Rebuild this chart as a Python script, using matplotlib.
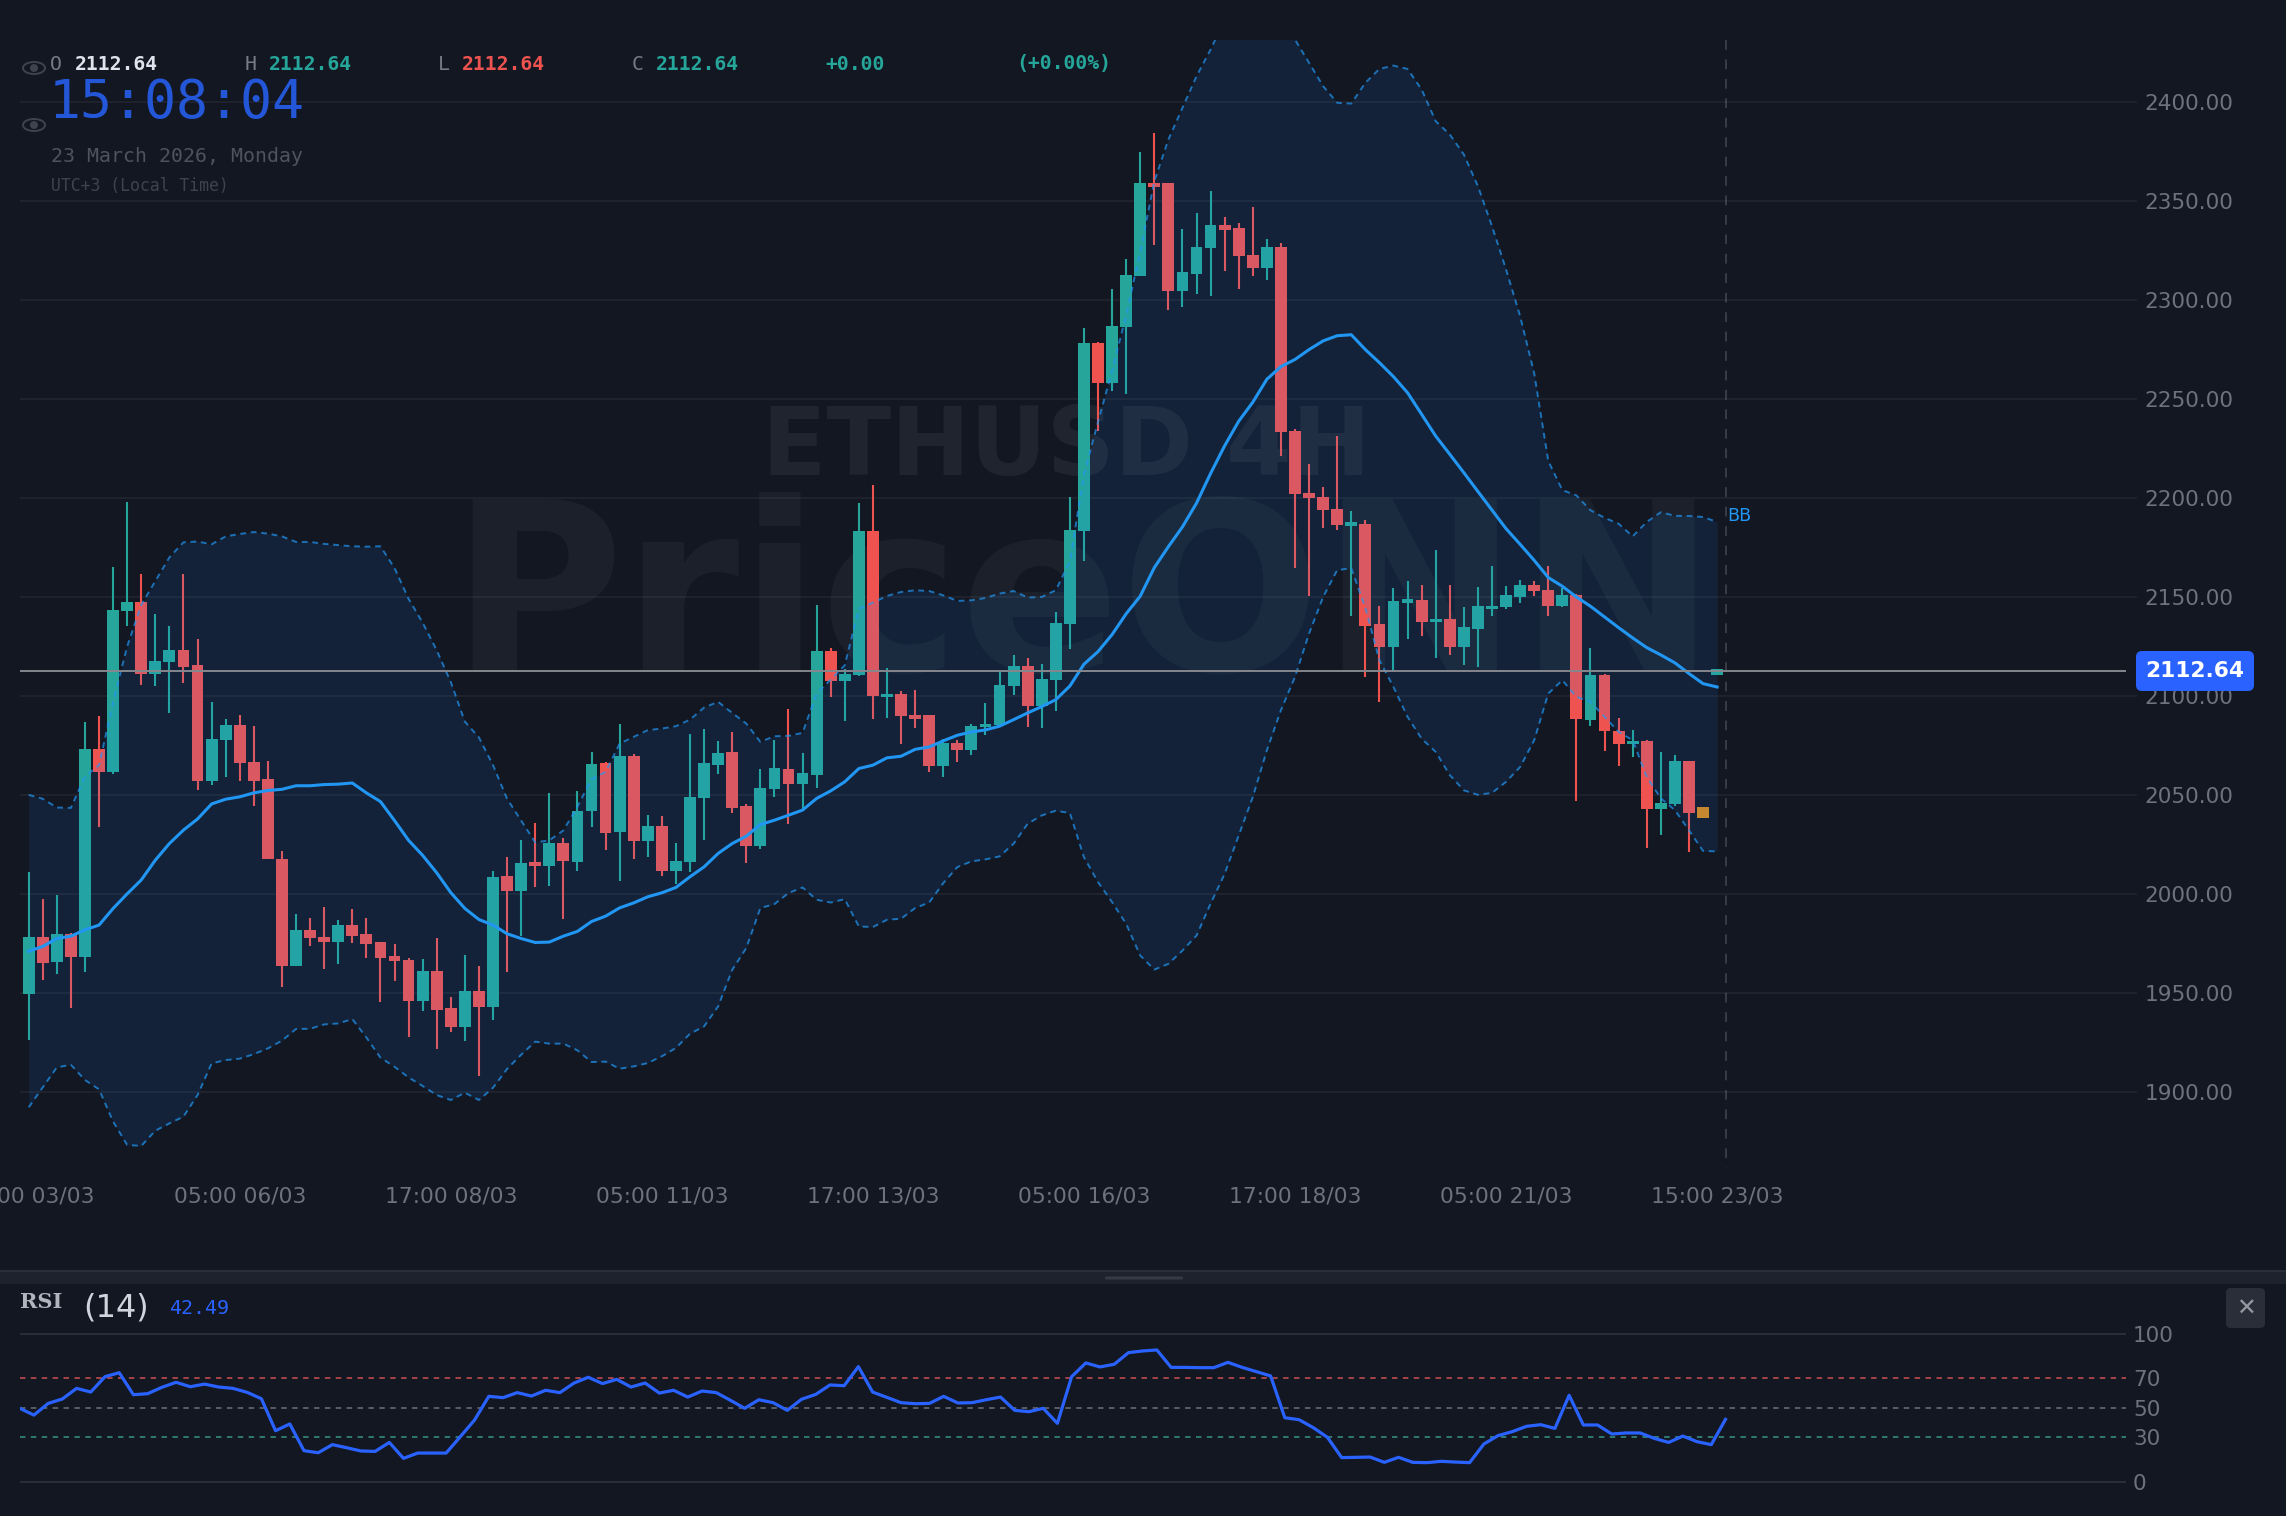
import matplotlib
matplotlib.use('Agg')
import matplotlib.pyplot as plt
import numpy as np
from matplotlib.patches import Ellipse, Circle, FancyBboxPatch, Rectangle
from matplotlib.transforms import IdentityTransform

W, H = 2286, 1516
BG = '#131722'
TEAL = '#26a69a'
RED = '#ef5350'
BLUE = '#2196f3'
GREY = '#6f727d'

opens = [1949.4,1978.2,1965.4,1979.6,1968,2073.2,2061.6,2142.8,2147.6,2111,
2117,2123.4,2115.4,2056.8,2077.6,2085.4,2066.6,2057.8,2017.4,1963.6,
1981.6,1978.4,1975.8,1984,1979.6,1975.6,1968.4,1966.6,1945.8,1961.2,
1942.2,1932.8,1951,1942.8,2008.8,2001.4,2016,2014,2025.6,2016,
2041.6,2066,2031.1,2069.5,2026.7,2034.5,2011.6,2016,2048.5,2065.3,
2071.4,2044.3,2024.4,2052.9,2063.3,2055.5,2060.2,2122.5,2107.6,2110.4,
2183.2,2099.3,2101,2090.6,2090.2,2064.6,2076.1,2072.6,2084.2,2085.2,
2104.9,2115.2,2094.8,2107.9,2136.5,2183.4,2278.4,2258,2286.2,2312,
2359.2,2359,2304.8,2313.2,2326.4,2338,2336.2,2323,2316,2327,
2234,2202.6,2200.6,2194.6,2186,2187,2136.2,2124.6,2147,2148.6,
2137.4,2139,2124.6,2133.8,2143.9,2144.8,2150.2,2156.2,2153.7,2145.3,
2151.2,2088,2110.6,2082.5,2075.7,2077.4,2043.1,2045.4,2067.2,2043.9,2110.6]

closes = [1978.4,1965,1979.6,1968.2,2073.2,2061.6,2143.6,2147.6,2111,2117.6,
2123.4,2114.6,2057,2078.4,2085.4,2066,2057,2017.4,1963.6,1981.6,
1977.6,1975.8,1984,1978.8,1974.8,1967.6,1966,1945.8,1961.2,1941.4,
1932.8,1951,1942.8,2008.6,2001.4,2015.8,2014,2025.6,2016.4,2041.8,
2065.6,2030.8,2069.5,2026.7,2034.5,2011.6,2016.7,2049.1,2066,2070.9,
2043.2,2024.4,2053.4,2063.5,2055.7,2061.1,2122.5,2107.6,2111.3,2183.2,
2100,2101,2089.6,2088.5,2064.6,2076.1,2072.6,2084.8,2086,2105.7,
2115,2094.8,2108.7,2136.9,2184,2278.4,2258,2286.8,2312.8,2359.2,
2357.2,2304.8,2314,2327,2338,2335.4,2322.4,2316,2327,2233.2,
2202,2200,2193.8,2186.6,2187.8,2135.4,2124.6,2148,2149.2,2137.4,
2139,2124.7,2134.7,2145.3,2145.6,2150.8,2156.2,2153,2145.3,2151.2,
2088.2,2110.6,2082.3,2075.7,2077.4,2043.1,2045.8,2067.2,2040.9,2038.2,2113.5]

highs = [2011,1997.4,1999.4,1980.4,2086.6,2090,2165,2197.8,2161.8,2141.6,
2135.4,2161.4,2128.8,2097,2088.4,2090.6,2084.8,2067.2,2021.4,1990,
1987.6,1993.4,1987,1992.4,1988,1975.6,1974.6,1967.4,1967.2,1977.6,
1948,1969,1963.6,2011.6,2018.6,2027.2,2035.8,2051,2028.2,2052,
2071.6,2066.6,2086,2070.8,2039.7,2039.2,2025.7,2080.6,2083.5,2077.3,
2082,2045.3,2063.3,2077.6,2093.3,2071.2,2146.1,2124.4,2113.8,2197.6,
2206.4,2114.3,2102.5,2103.2,2090.2,2078.4,2077.9,2086,2096.6,2113.3,
2120.9,2118.9,2116.3,2142.4,2200.6,2286,2279,2305.8,2320.6,2374.8,
2384.2,2359.4,2335.8,2344,2355.2,2342.2,2339.2,2346.8,2331,2329,
2235,2217.4,2205.4,2231.4,2193.4,2189,2145.2,2154.6,2158,2156.2,
2173.6,2155.9,2145,2154.9,2165.5,2155.6,2158.8,2158.2,2165.8,2154.5,
2151.4,2124.4,2111.3,2089,2082.8,2077.9,2071.4,2069.9,2067.2,2043.9,2113.5]

lows = [1926,1956.6,1959.4,1942.4,1960.4,2034,2060.4,2135.2,2105.4,2105,
2091.6,2106.6,2052.2,2055.2,2059,2057,2044.2,2017.4,1953,1963.6,
1973.6,1961.8,1964.4,1975,1967.6,1945.4,1955.8,1927.4,1940.6,1921.8,
1930.2,1925.6,1908,1936,1960.6,1978.6,2003.6,2004,1987.4,2011.6,
2033.8,2022,2006.6,2017.5,2018.7,2009,2004.7,2011.1,2027.4,2060.4,
2040.6,2015.6,2022.5,2048.9,2035.5,2043.1,2053.7,2099.5,2087.4,2109.9,
2088.5,2089,2075.9,2083.7,2061.3,2059.1,2066.7,2070,2080.1,2084.3,
2100.3,2084.3,2084,2092.4,2123.6,2168,2234,2254,2252.8,2312,
2328,2295,2296.6,2303,2302.2,2314.8,2305.4,2312,2310,2221.2,
2164.8,2150.6,2185,2184,2140.4,2109.4,2097,2112.2,2128.5,2130.1,
2119.4,2120.5,2115.5,2114.8,2140.4,2143.8,2147,2150.5,2140.4,2145,
2047,2085,2072,2064.6,2069.2,2023,2029.8,2044.4,2020.9,2038.2,2110.6]

bb_mid = [1971,1973.4,1977.4,1978.6,1981.8,1984.2,1992.6,2000,2007,2017,
2025.4,2032.2,2037.8,2045.4,2047.8,2049,2051,2052.2,2052.8,2054.6,
2054.6,2055.2,2055.4,2056,2051,2046.6,2037,2027,2019.4,2010.6,
2000.6,1992.6,1987,1984.2,1979.8,1977.4,1975.4,1975.6,1978.6,1981,
1986,1988.7,1992.9,1995.4,1998.5,2000.5,2003.2,2008.6,2013.6,2020.4,
2025.4,2029.1,2035,2037.2,2039.7,2042.3,2048.2,2052,2056.6,2063.3,
2065,2068.7,2069.5,2073,2074.2,2077.3,2080.1,2081.8,2082.8,2084.7,
2088,2091.4,2094.6,2098.1,2105,2116,2122.4,2131,2141.5,2150.4,
2164.8,2175.4,2185.4,2197.4,2212.4,2226.4,2238.8,2248.4,2260,2266.4,
2270,2275,2279.4,2282,2282.5,2275,2268.4,2261.3,2253.2,2242.3,
2231.3,2222.1,2212.8,2203.3,2193.9,2184.5,2176.6,2168.5,2159.8,2155.4,
2150,2145.3,2139.9,2134.5,2129.3,2124.4,2120.7,2116.7,2111.3,2106.2,2104.5]

bb_upper = [2050,2048,2043.6,2043.4,2059.4,2065,2097,2125,2146,2158,
2170,2177.6,2178,2176.6,2180.6,2181.8,2182.8,2182,2180.6,2177.8,
2177.8,2176.8,2176.2,2175.6,2175.4,2175.6,2164.6,2149,2137,2123,
2107,2087,2079,2065,2048,2037,2026,2027,2032,2044,
2058,2061.6,2075.9,2079.3,2082.7,2083.5,2084.7,2088,2094.1,2097,
2091.4,2086,2076.8,2079.6,2079.8,2081.3,2101.2,2108.2,2115.5,2144.1,
2147.1,2150.5,2152.5,2153.4,2153,2150.8,2148,2148.3,2149.5,2151.7,
2153,2149.7,2150,2153.4,2168,2212,2238.4,2264.4,2292.4,2324.4,
2360,2381.1,2397.1,2413.1,2426.6,2441.7,2450,2452,2450,2442,
2431.6,2419.9,2408.1,2399.7,2399.3,2409.8,2416.8,2418.5,2416.8,2406.4,
2390.4,2383.7,2373.6,2357.6,2337.4,2315.5,2291.9,2263,2218.7,2204,
2201.3,2193.8,2190,2187,2180.6,2187.9,2192.8,2191,2190.9,2190.4,2187.9]

bb_lower = [1892.1,1902.2,1912.3,1913.6,1905.9,1901.2,1884.9,1873.1,1872.6,1880.3,
1884,1887.4,1898.3,1914.3,1916,1916.7,1919,1921.9,1925.8,1931.7,
1931.8,1934,1934.5,1936.7,1927.4,1917.2,1912.6,1907.2,1902.9,1898.3,
1895.8,1899.5,1895.8,1902,1911.5,1918.7,1925.3,1924.3,1924.3,1920.9,
1915,1915.2,1911.6,1912.8,1914.5,1917.9,1922.1,1929.3,1933,1943.1,
1961.6,1972.6,1992.8,1994.8,2000.4,2003.2,1997,1995.6,1997.3,1983.5,
1983.2,1986.9,1987.4,1992.8,1995.6,2005.4,2013.5,2016.4,2017.4,2018.9,
2025.3,2035.4,2039.6,2042,2040.8,2018.5,2005.9,1995.8,1984.8,1968.8,
1961.7,1964.6,1971.3,1978.9,1995,2010.1,2029.5,2048.9,2072.5,2092.8,
2109.6,2131.5,2150,2163.6,2164.5,2144.5,2118,2104.5,2089.4,2078.4,
2071.7,2060,2052.3,2050,2051,2056.6,2064.1,2077.6,2101.2,2107.9,
2099.5,2097,2089.4,2081.8,2077.6,2059,2048.2,2042.3,2032.1,2021.7,2021.4]

rsi = [49.7,45.1,53,56,63.2,60.7,71.1,73.8,58.9,59.6,
63.9,67.3,64.3,66.1,64.1,63.2,60.5,56.2,34.5,39.1,
21,19.6,25.1,23,20.8,20.5,26.6,15.8,19.4,19.4,
19.4,30.5,41.8,57.8,56.9,60.3,58,61.9,60.3,66.8,
70.7,66.4,69.3,64.1,66.8,60,61.9,57.3,61.4,60.3,
55.1,49.7,55.5,53.5,48.3,55.8,59.1,65.5,65,77.9,
60.7,57.1,53.5,52.8,53,57.8,53.3,53.5,55.5,57.3,
48.3,47.4,49.7,39.5,71.1,80.4,77.7,79.5,87.4,88.5,
89.2,77.4,77.4,77.2,77.2,80.8,77.4,74.5,71.6,43.3,
42,36.6,30,16.3,16.5,16.7,13.1,16.5,13.1,12.9,
13.8,13.3,12.9,25.5,31.2,33.9,37.5,38.6,36.1,58.5,
38.4,38.4,32.3,33,33,29.3,26.6,30.9,27.1,25.1,42.2]

price_ticks = [1900,1950,2000,2050,2100,2150,2200,2250,2300,2350,2400]
time_idx = [0,15,30,45,60,75,90,105,120]
time_labels = ['17:00 03/03','05:00 06/03','17:00 08/03','05:00 11/03','17:00 13/03',
               '05:00 16/03','17:00 18/03','05:00 21/03','15:00 23/03']
rsi_ticks = [0,30,50,70,100]
last_price = 2112.64
pending_bar = 119
crosshair_idx = 120.6


def add_px_axes(left, top, right, bottom):
    return fig.add_axes([left/W, 1-bottom/H, (right-left)/W, (bottom-top)/H], facecolor='none')


def px_text(x, y, s, **kw):
    kw.setdefault('va', 'center')
    kw.setdefault('family', 'DejaVu Sans Mono')
    return fig.text(x/W, 1-y/H, s, **kw)


def px_patch(p):
    p.set_transform(IdentityTransform())
    fig.add_artist(p)


fig = plt.figure(figsize=(W/100, H/100), dpi=100, facecolor=BG)

# watermarks
px_text(450, 671, 'PriceONN', va='baseline', family='DejaVu Sans', weight='bold', fontsize=170,
        color='white', alpha=0.04, zorder=-1)
px_text(762, 475, 'ETHUSD 4H', va='baseline', family='DejaVu Sans', weight='bold', fontsize=68,
        color='white', alpha=0.06, zorder=-1)

# main price pane
ax = add_px_axes(20, 40, 2137, 1168)
ymin = 2200-(1168-498)/1.979
ymax = 2200+(498-40)/1.979
idx = np.arange(len(closes))
o, h, l, c = map(np.array, (opens, highs, lows, closes))
colors = [TEAL if c[i] >= o[i] else RED for i in idx]
colors[pending_bar] = '#d9881a'

ax.vlines(idx[:pending_bar], l[:pending_bar], h[:pending_bar],
          colors=colors[:pending_bar], lw=1.5, zorder=2)
ax.bar(idx, np.abs(c-o), bottom=np.minimum(o, c), width=0.84, color=colors, zorder=2)
ax.fill_between(idx, bb_lower, bb_upper, color=(0.1, 0.55, 1.0), alpha=0.1, lw=0, zorder=3)
ax.plot(idx, bb_upper, color=BLUE, alpha=0.7, lw=1.4, ls=(0, (3, 2.4)), zorder=4)
ax.plot(idx, bb_lower, color=BLUE, alpha=0.7, lw=1.4, ls=(0, (3, 2.4)), zorder=4)
ax.plot(idx, bb_mid, color=BLUE, lw=2.2, zorder=5, solid_joinstyle='round')

ax.hlines(last_price, -0.62, 149.05, color='#85878d', lw=1.4, zorder=6)
ax.plot([crosshair_idx, crosshair_idx], [ymax, ymin], color='#3a3d47', lw=1.4, ls=(0, (5, 5)), zorder=1)

ax.set_xlim((20-28.7)/14.07, (2137-28.7)/14.07)
ax.set_ylim(ymin, ymax)
ax.set_yticks(price_ticks, [f'{p:.2f}' for p in price_ticks])
ax.yaxis.tick_right()
ax.set_xticks(time_idx, time_labels)
ax.tick_params(axis='y', length=0, pad=5.5, labelsize=15.6, labelcolor=GREY)
ax.tick_params(axis='x', length=0, pad=13.6, labelsize=15.7, labelcolor=GREY)
ax.grid(axis='y', color='white', alpha=0.05, lw=1.4, zorder=0)
for s in ax.spines.values():
    s.set_visible(False)

# rsi pane
ax2 = add_px_axes(20, 1300, 2126, 1510)
ax2.plot(np.arange(len(rsi)), rsi, color='#2962ff', lw=2.3, zorder=4)
ax2.axhline(100, color='#2a2e39', lw=1.4)
ax2.axhline(0, color='#2a2e39', lw=1.4)
for level, col in ((70, '#a5444a'), (50, '#5a5d66'), (30, '#2f7a74')):
    ax2.axhline(level, color=col, lw=1.4, ls=(0, (2.8, 2.8)), zorder=2)
ax2.set_xlim((20-19.7)/14.215, (2126-19.7)/14.215)
ax2.set_ylim(-(1510-1481.7)/1.477, 100+(1334-1300)/1.477)
ax2.set_xticks([])
ax2.set_yticks(rsi_ticks, [str(t) for t in rsi_ticks])
ax2.yaxis.tick_right()
ax2.tick_params(axis='y', length=0, pad=5, labelsize=15.5, labelcolor=GREY)
for s in ax2.spines.values():
    s.set_visible(False)

# pane divider
px_patch(Rectangle((0, H-1284), W, 12, fc='#1e222d', ec='none'))
px_patch(Rectangle((0, H-1272), W, 2, fc='#2a2e39', ec='none'))
px_patch(FancyBboxPatch((1105, H-1279.5), 78, 3, boxstyle='round,pad=0,rounding_size=1.5', fc='#363a45', ec='none'))

# last price tag
px_patch(FancyBboxPatch((2136, H-691), 118, 40, boxstyle='round,pad=0,rounding_size=6', fc='#2962ff', ec='none', zorder=6))
px_text(2195, 671, '2112.64', ha='center', family='DejaVu Sans', weight='bold', fontsize=15.6, color='white', zorder=7)
px_text(1727, 516, 'BB', family='DejaVu Sans', fontsize=12.6, color=BLUE)

# ohlc row
for x, s, col, w in ((50, 'O', '#787b86', 'normal'), (75, '2112.64', '#e0e3eb', 'bold'),
                     (245, 'H', '#787b86', 'normal'), (269, '2112.64', TEAL, 'bold'),
                     (438, 'L', '#787b86', 'normal'), (462, '2112.64', RED, 'bold'),
                     (632, 'C', '#787b86', 'normal'), (656, '2112.64', TEAL, 'bold'),
                     (825, '+0.00', TEAL, 'bold'), (1016, '(+0.00%)', TEAL, 'bold')):
    px_text(x, 64, s, fontsize=14.2, color=col, weight=w)

px_text(49, 103, '15:08:04', fontsize=38.3, color='#2456d8')
px_text(51, 157, '23 March 2026, Monday', fontsize=14.3, color='#50535e')
px_text(51, 186, 'UTC+3 (Local Time)', fontsize=11.9, color='#3f434e')

# eye icons
for yc in (68, 125):
    px_patch(Ellipse((34, H-yc), 22, 12, fc='none', ec='#3f434e', lw=1.4))
    px_patch(Circle((34, H-yc), 4, fc='#3f434e', ec='none'))

# rsi header
px_text(20, 1302, 'RSI', family='DejaVu Serif', weight='bold', fontsize=15, color='#b2b5be')
px_text(83, 1308, '(14)', family='DejaVu Sans', fontsize=23, color='#d1d4dc')
px_text(169, 1309, '42.49', fontsize=14.4, color='#2962ff')

# close button
px_patch(FancyBboxPatch((2226, H-1328), 39, 40, boxstyle='round,pad=0,rounding_size=5', fc='#2a2e39', ec='none'))
px_text(2245.5, 1309, '✕', ha='center', family='DejaVu Sans', fontsize=17, color='#9598a1')

fig.savefig('out.png', dpi=100, facecolor=BG)
